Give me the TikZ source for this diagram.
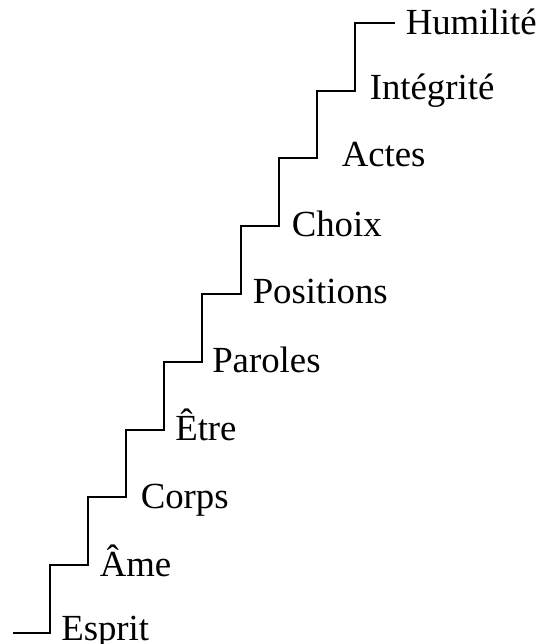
\documentclass[tikz,border=0pt]{standalone}
\usepackage{fontspec}
\setmainfont{Liberation Serif}
\usepackage{tikz}

\begin{document}
\begin{tikzpicture}[x=0.75pt,y=0.75pt,yscale=-1,xscale=1,
  stepline/.style={line width=1.5pt,line join=miter},
  steplabel/.style={anchor=base west,inner sep=0pt,font=\fontsize{27.6}{33}\selectfont}]
\useasboundingbox (0,0) rectangle (543,644);

%Straight Lines [id:stairs] 
\draw [stepline] (13,632.8) -- (50,632.8) -- (50,565) -- (88.1,565) -- (88.1,497.3) -- (126.2,497.3) -- (126.2,429.5) -- (164.3,429.5) -- (164.3,361.7) -- (202.4,361.7) -- (202.4,294) -- (240.5,294) -- (240.5,226.2) -- (278.6,226.2) -- (278.6,158.4) -- (316.7,158.4) -- (316.7,90.6) -- (354.8,90.6) -- (354.8,22.9) -- (395,22.9) ;

% Text Node
\node [steplabel] (esprit) at (61,640) {Esprit};
% Text Node
\node [steplabel] (ame) at (99.5,576) {Âme};
% Text Node
\node [steplabel] (corps) at (140.5,508) {Corps};
% Text Node
\node [steplabel] (etre) at (175,440) {Être};
% Text Node
\node [steplabel] (paroles) at (212,372) {Paroles};
% Text Node
\node [steplabel] (positions) at (252.5,303) {Positions};
% Text Node
\node [steplabel] (choix) at (291.5,236) {Choix};
% Text Node
\node [steplabel] (actes) at (341.5,166) {Actes};
% Text Node
\node [steplabel] (integrite) at (369.5,99) {Intégrité};
% Text Node
\node [steplabel] (humilite) at (405.5,34) {Humilité};
\end{tikzpicture}
\end{document}
